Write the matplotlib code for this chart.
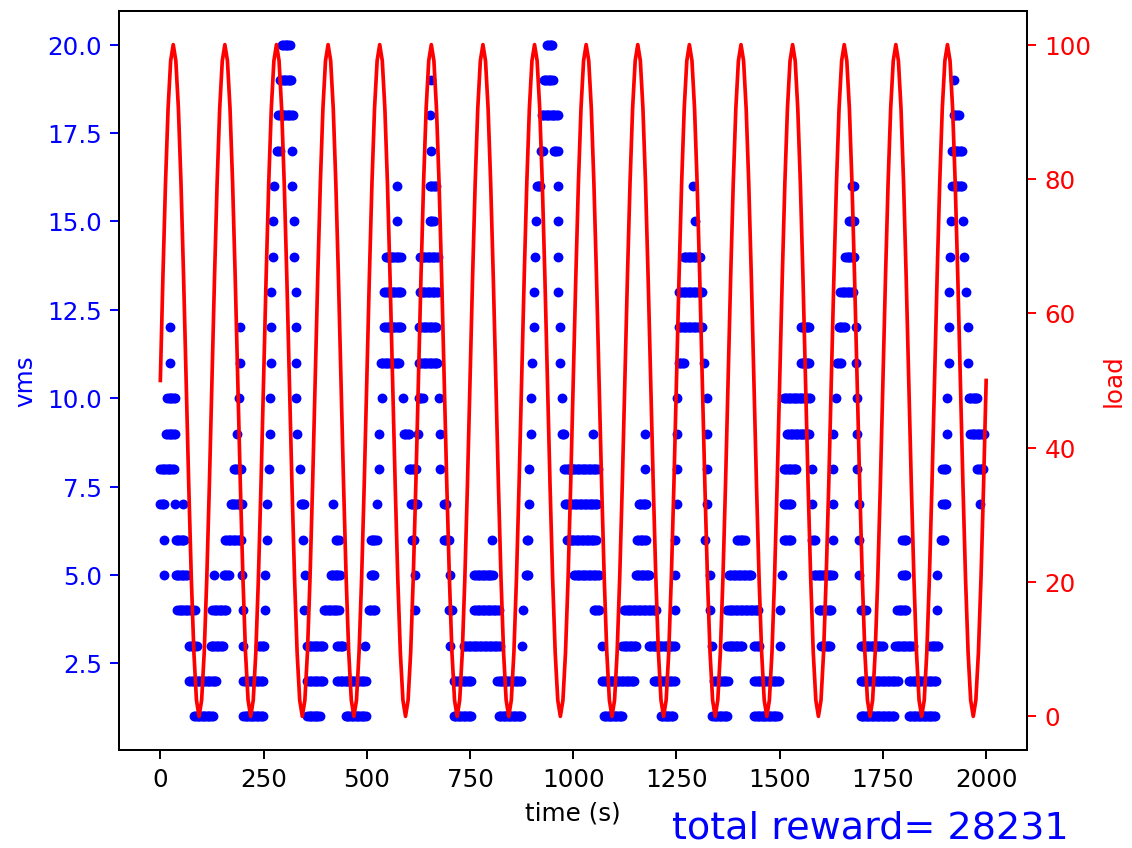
#!/usr/bin/env python3
"""vms (scatter) vs sinusoidal load over one 2000 s episode."""
import numpy as np
import matplotlib
matplotlib.use("Agg")
import matplotlib.pyplot as plt

# vms level -> runs of (start_s, end_s) during which that many vms were running
RUNS_01 = [(82, 128), (201, 249), (356, 386), (449, 499), (711, 754), (820, 875),
           (1074, 1121), (1212, 1242), (1337, 1375), (1438, 1496), (1696, 1779), (1813, 1876)]
RUNS_02 = [(70, 136), (201, 249), (356, 395), (428, 499), (711, 754), (816, 875),
           (1070, 1149), (1195, 1246), (1341, 1375), (1438, 1500), (1696, 1787), (1813, 1880)]
RUNS_03 = [(70, 88), (122, 152), (200, 200), (239, 253), (356, 395), (428, 443), (496, 496),
           (702, 702), (735, 822), (876, 876), (1069, 1069), (1119, 1153), (1183, 1246),
           (1336, 1336), (1373, 1411), (1438, 1452), (1501, 1501), (1599, 1625), (1696, 1750),
           (1780, 1823), (1865, 1883)]
RUNS_04 = [(41, 84), (126, 160), (200, 200), (253, 253), (347, 347), (396, 434), (505, 520),
           (617, 617), (700, 706), (760, 822), (878, 878), (1050, 1064), (1123, 1202),
           (1247, 1247), (1332, 1332), (1373, 1448), (1501, 1501), (1595, 1625), (1696, 1710),
           (1785, 1807), (1881, 1881)]
RUNS_05 = [(8, 8), (37, 64), (129, 129), (154, 168), (198, 198), (254, 254), (351, 351),
           (413, 434), (509, 520), (617, 617), (702, 702), (760, 806), (885, 891), (1002, 1064),
           (1151, 1186), (1247, 1247), (1332, 1332), (1377, 1432), (1505, 1505), (1583, 1629),
           (1692, 1692), (1797, 1807), (1881, 1881)]
RUNS_06 = [(8, 8), (37, 60), (157, 197), (258, 258), (345, 345), (426, 434), (509, 524),
           (609, 616), (687, 701), (803, 803), (887, 891), (985, 1056), (1155, 1177),
           (1247, 1247), (1320, 1320), (1397, 1415), (1510, 1529), (1579, 1585), (1630, 1630),
           (1692, 1692), (1797, 1807), (1890, 1900)]
RUNS_07 = [(0, 10), (36, 36), (56, 56), (170, 197), (258, 258), (340, 350), (417, 417),
           (525, 525), (606, 621), (687, 693), (892, 892), (980, 1060), (1159, 1177),
           (1251, 1251), (1323, 1323), (1510, 1529), (1578, 1578), (1630, 1630), (1692, 1692),
           (1894, 1904), (1985, 1985)]
RUNS_08 = [(0, 35), (178, 197), (264, 264), (339, 339), (529, 529), (602, 621), (678, 678),
           (894, 894), (978, 1060), (1174, 1174), (1251, 1251), (1323, 1323), (1510, 1541),
           (1578, 1578), (1630, 1630), (1687, 1687), (1894, 1904), (1978, 1995)]
RUNS_09 = [(14, 35), (186, 186), (265, 265), (332, 332), (530, 530), (590, 602), (623, 623),
           (678, 678), (898, 898), (972, 980), (1048, 1048), (1174, 1174), (1251, 1251),
           (1323, 1323), (1518, 1573), (1630, 1630), (1687, 1687), (1905, 1905), (1962, 1995)]
RUNS_10 = [(17, 35), (190, 190), (265, 265), (329, 329), (537, 537), (588, 588), (626, 637),
           (676, 676), (898, 898), (972, 972), (1251, 1251), (1323, 1323), (1510, 1573),
           (1637, 1637), (1687, 1687), (1905, 1905), (1958, 1980)]
RUNS_11 = [(24, 24), (192, 192), (269, 269), (329, 329), (534, 580), (626, 673), (900, 900),
           (969, 969), (1256, 1270), (1316, 1316), (1551, 1573), (1639, 1650), (1685, 1685),
           (1909, 1909), (1957, 1957)]
RUNS_12 = [(24, 24), (192, 192), (269, 269), (329, 329), (542, 584), (626, 669), (906, 906),
           (969, 969), (1256, 1314), (1551, 1573), (1643, 1658), (1685, 1685), (1909, 1909),
           (1955, 1955)]
RUNS_13 = [(269, 269), (328, 328), (542, 584), (630, 673), (906, 906), (964, 964),
           (1256, 1314), (1647, 1678), (1910, 1910), (1952, 1952)]
RUNS_14 = [(272, 272), (324, 324), (546, 584), (630, 673), (908, 908), (964, 964),
           (1268, 1307), (1659, 1682), (1913, 1913), (1947, 1947)]
RUNS_15 = [(274, 274), (324, 324), (573, 573), (653, 664), (910, 910), (964, 964),
           (1295, 1295), (1668, 1682), (1914, 1914), (1945, 1945)]
RUNS_16 = [(275, 275), (320, 320), (573, 573), (653, 669), (911, 921), (962, 962),
           (1291, 1291), (1675, 1682), (1918, 1944)]
RUNS_17 = [(283, 289), (320, 320), (656, 656), (921, 927), (953, 963), (1918, 1944)]
RUNS_18 = [(285, 322), (654, 654), (924, 963), (1922, 1936)]
RUNS_19 = [(290, 318), (656, 656), (929, 951), (1923, 1923)]
RUNS_20 = [(295, 315), (937, 950)]

# load over one cycle, read every 6.25 s (the cycle repeats unchanged)
LOAD_CYCLE = [50.0, 65.5, 79.4, 90.5, 97.6, 100.0, 97.6, 90.5, 79.4, 65.5,
              50.0, 34.5, 20.6, 9.5, 2.4, 0.0, 2.4, 9.5, 20.6, 34.5]
N_CYCLES = 16
T_END = 2000
TOTAL_REWARD = 28231

SAMPLE_STEP = 3  # s between logged vms samples inside a run

DPI = 177
W, H = 1132, 848


def main():
    all_runs = [RUNS_01, RUNS_02, RUNS_03, RUNS_04, RUNS_05, RUNS_06, RUNS_07, RUNS_08,
                RUNS_09, RUNS_10, RUNS_11, RUNS_12, RUNS_13, RUNS_14, RUNS_15, RUNS_16,
                RUNS_17, RUNS_18, RUNS_19, RUNS_20]
    ts, vs = [], []
    for level, runs in enumerate(all_runs, start=1):
        for a, b in runs:
            pts = np.arange(a, b + 1, SAMPLE_STEP) if b > a else np.array([a])
            ts.extend(pts)
            vs.extend([level] * len(pts))

    load = LOAD_CYCLE * N_CYCLES + [LOAD_CYCLE[0]]
    load_t = np.linspace(0, T_END, len(load))

    fig = plt.figure(figsize=((W + 0.5) / DPI, (H + 0.5) / DPI), dpi=DPI)
    ax = fig.add_axes([119 / W, 1 - 750 / H, (1027 - 119) / W, (750 - 11.5) / H])
    ax.plot(ts, vs, 'b.')
    ax.set_xlabel('time (s)')
    ax.set_ylabel('vms', color='b')
    ax.tick_params(axis='y', colors='b')

    ax2 = ax.twinx()
    ax2.plot(load_t, load, 'r-')
    ax2.set_ylabel('load', color='r')
    ax2.tick_params(axis='y', colors='r')

    fig.text(672 / W, 1 - 838 / H, 'total reward= %d' % TOTAL_REWARD,
             color='b', fontsize=15.5, va='baseline', ha='left')

    fig.savefig('out.png', dpi=DPI)
    plt.close(fig)


if __name__ == '__main__':
    main()
